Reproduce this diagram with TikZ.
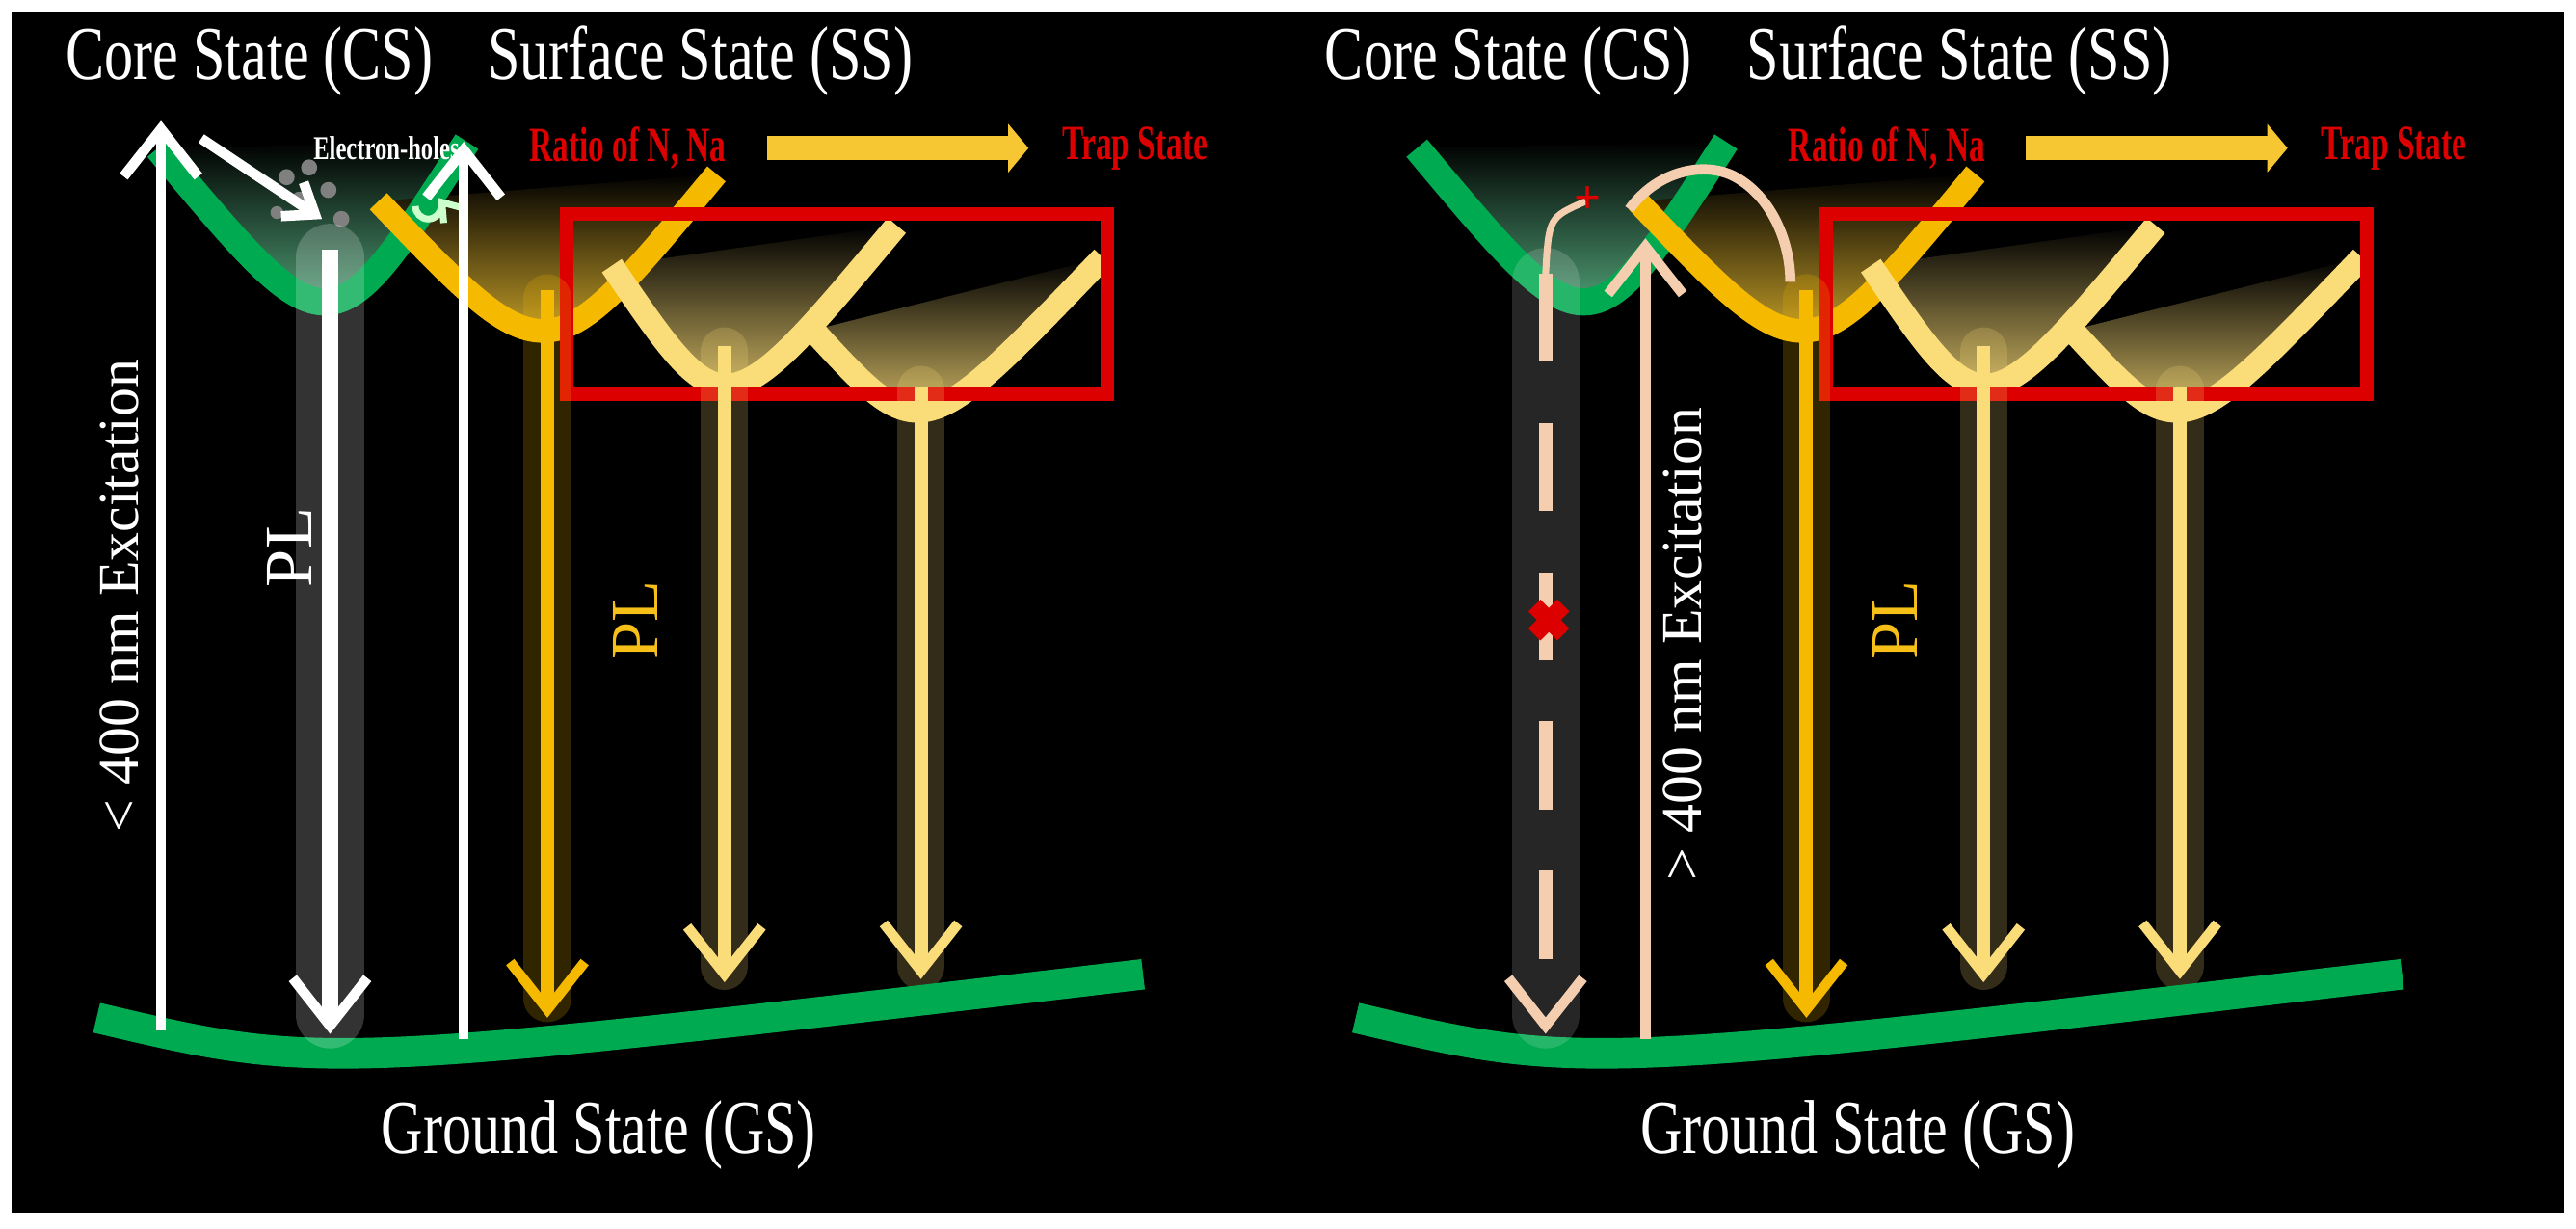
\documentclass[tikz,border=0pt]{standalone}
\usepackage{fontspec}
\setmainfont{Liberation Serif}
\usetikzlibrary{arrows.meta,calc}
\definecolor{gr}{RGB}{0,170,80}
\definecolor{yo}{RGB}{245,185,0}
\definecolor{yl}{RGB}{250,220,120}
\definecolor{rd}{RGB}{220,0,0}
\definecolor{pk}{RGB}{245,205,175}
\tikzset{
 ttl/.style={text=white,font=\fontsize{18}{20}\selectfont,yscale=1.25,xscale=0.95},
 rtxt/.style={text=rd,font=\bfseries\fontsize{10}{11}\selectfont,yscale=1.45,xscale=0.95},
 lbl/.style={text=white,font=\fontsize{17}{18}\selectfont},
 ar/.style={-{Straight Barb[length=14,width=22,line width=3pt]}},
 glow/.style={line width=14,opacity=0.2,line cap=round},
}
\begin{document}
\begin{tikzpicture}[x=0.0167cm,y=-0.0167cm]
\fill[white] (0,0) rectangle (1600,763);
\fill[black] (7,7) rectangle (1593,753);
\foreach \o in {0,782}{
\begin{scope}[xshift=\o*0.0167cm]
\node[ttl] (cs\o) at (155,38) {Core State (CS)};
\node[ttl] (ss\o) at (435,38) {Surface State (SS)};
\node[ttl] (gs\o) at (372,705) {Ground State (GS)};
\node[rtxt] (ra\o) at (390,92) {Ratio of N, Na};
\node[rtxt] (tr\o) at (705,92) {Trap State};
\draw[line width=7,yo!80,-{Triangle[length=6,width=14]}] ($(ra\o.east)+(18,0)$) -- ($(tr\o.west)+(-14,0)$);
% fills
\shade[top color=black,bottom color=gr!60!white] (98,92) .. controls (205,220) .. (290,88) -- cycle;
\shade[top color=black,bottom color=yo!80!white] (235,125) .. controls (340,235) .. (445,108) -- cycle;
\shade[top color=black,bottom color=yl] (380,165) .. controls (450,268) .. (557,140) -- cycle;
\shade[top color=black,bottom color=yl] (505,205) .. controls (572,278) .. (685,160) -- cycle;
\draw[gr,line width=8] (98,92) .. controls (205,220) .. (290,88);
\draw[yo,line width=7] (235,125) .. controls (340,235) .. (445,108);
\draw[yl,line width=7] (380,165) .. controls (450,268) .. (557,140);
\draw[yl,line width=7] (505,205) .. controls (572,278) .. (685,160);
\draw[rd,line width=4] (352,133) rectangle (688,245);
% yellow PL arrows
\draw[yo,glow] (340,185) -- (340,620);
\draw[yl,glow] (450,218) -- (450,600);
\draw[yl,glow] (572,242) -- (572,600);
\coordinate (y1t\o) at (340,180); \coordinate (y1b\o) at (340,632);
\coordinate (y2t\o) at (450,215); \coordinate (y2b\o) at (450,610);
\coordinate (y3t\o) at (572,240); \coordinate (y3b\o) at (572,608);
\draw[yo,line width=4,ar] (y1t\o) -- (y1b\o);
\draw[yl,line width=4,ar] (y2t\o) -- (y2b\o);
\draw[yl,line width=4,ar] (y3t\o) -- (y3b\o);
\node[rotate=90,text=yo!90,font=\fontsize{20}{22}\selectfont] (pl\o) at (395,385) {PL};
\draw[gr,line width=9] (60,632) .. controls (200,665) .. (710,605);
\end{scope}}
% left specifics
\fill[gray] (178,110) circle (5) (192,104) circle (5) (186,124) circle (5) (204,118) circle (5) (212,136) circle (5) (172,132) circle (4);
\node[text=white,font=\bfseries\fontsize{7}{8}\selectfont,yscale=1.4] (eh) at (240,92) {Electron-holes};
\coordinate (w1) at (125,86); \coordinate (w2) at (200,136);
\draw[white,line width=3,-{Straight Barb[length=8,width=12]}] (w1) -- (w2);
\draw[white!80!green,line width=2,-{Straight Barb[length=5,width=7]}] (258,128) arc (180:-40:8);
\coordinate (e1b) at (100,640); \coordinate (e1t) at (100,75);
\draw[white,line width=3,ar] (e1b) -- (e1t);
\node[lbl,rotate=90] (ex1) at (74,370) {< 400 nm Excitation};
\draw[white,glow,opacity=0.2,line width=20] (205,160) -- (205,630);
\coordinate (p1t) at (205,155); \coordinate (p1b) at (205,642);
\draw[white,line width=5,ar] (p1t) -- (p1b);
\node[lbl,rotate=90,font=\fontsize{20}{22}\selectfont] (pl) at (180,340) {PL};
\coordinate (e2b) at (288,645); \coordinate (e2t) at (288,88);
\draw[white,line width=3,ar] (e2b) -- (e2t);
% right specifics
\draw[white,glow,opacity=0.15,line width=20] (960,175) -- (960,630);
\coordinate (d1t) at (960,170); \coordinate (d1b) at (960,642);
\draw[pk,line width=4,dash pattern=on 26 off 18,ar] (d1t) -- (d1b);
\coordinate (xc) at (962,385);
\draw[rd,line width=5] ($(xc)+(-9,-9)$) -- ($(xc)+(9,9)$) ($(xc)+(-9,9)$) -- ($(xc)+(9,-9)$);
\draw[pk,line width=2] (960,170) .. controls (962,135) .. (985,125);
\node[text=rd,font=\bfseries\fontsize{14}{14}\selectfont] (x2) at (986,124) {+};
\coordinate (u1b) at (1022,645); \coordinate (u1t) at (1022,148);
\draw[pk,line width=3,ar] (u1b) -- (u1t);
\draw[pk,line width=3] (1012,130) .. controls (1030,105) and (1060,100) .. (1078,110) .. controls (1100,122) and (1112,150) .. (1112,175);
\node[lbl,rotate=90] (ex2) at (1045,400) {> 400 nm Excitation};
\end{tikzpicture}
\end{document}
